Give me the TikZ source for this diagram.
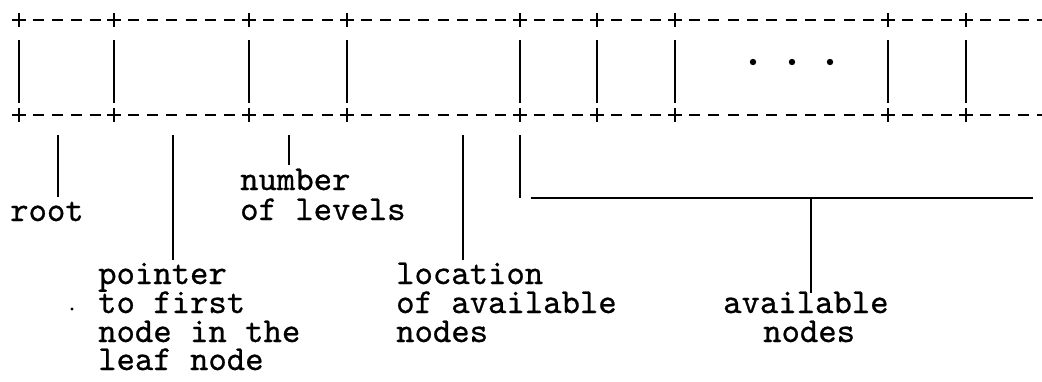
\documentclass[tikz,border=0pt]{standalone}
\usepackage{fontspec}
\newfontfamily\twfont{lmmono10-regular.otf}[FakeBold=0.7]
\begin{document}
\begin{tikzpicture}[x=1pt,y=-1pt,
  lbl/.style={anchor=base west,inner sep=0pt,font=\twfont\fontsize{35}{29}\selectfont},
  lead/.style={line width=1.7pt},
  bar/.style={line width=2pt},
  dsh/.style={line width=2.2pt},
  crs/.style={line width=2pt},
  brk/.style={line width=2.6pt}]
\useasboundingbox (0,0) rectangle (1042,381);
% cell separators with crosses
\foreach \x in {19,114,249,347,520,597,675,888,966}{
  \foreach \y in {20,115}{\draw[crs] (\x-7,\y) -- (\x+7,\y) (\x,\y-7) -- (\x,\y+7);}
  \draw[bar] (\x,40) -- (\x,103);
}
% dashes
\foreach \a/\b/\n in {19/114/5,114/249/7,249/347/5,347/520/9,520/597/4,597/675/4,675/888/11,888/966/4}{
  \pgfmathtruncatemacro\m{\n-1}
  \foreach \k in {1,...,\m}{
    \pgfmathsetmacro\c{\a+\k*(\b-\a)/\n}
    \draw[dsh] (\c-5.5,20) -- (\c+5.5,20) (\c-5.5,115) -- (\c+5.5,115);
  }
}
\foreach \c in {985,1004,1023,1042}{
  \draw[dsh] (\c-5.5,20) -- (\c+5.5,20) (\c-5.5,115) -- (\c+5.5,115);
}
% ellipsis dots
\fill (753,62) circle (3.2) (792,62) circle (3.2) (830,62) circle (3.2);
% labels
\node[lbl] (root) at (10,221) {root};
\node[lbl] (num1) at (240,190) {number};
\node[lbl] (num2) at (240,220) {of levels};
\node[lbl] (ptr1) at (98,284) {pointer};
\node[lbl] (ptr2) at (98,313) {to first};
\node[lbl] (ptr3) at (98,342) {node in the};
\node[lbl] (ptr4) at (98,370) {leaf node};
\node[lbl] (loc1) at (396,284) {location};
\node[lbl] (loc2) at (396,313) {of available};
\node[lbl] (loc3) at (396,342) {nodes};
\node[lbl] (av1) at (723,313) {available};
\node[lbl] (av2) at (763,342) {nodes};
% leaders
\coordinate (rootT) at (58,135); \coordinate (rootB) at (58,197);
\coordinate (ptrT) at (173,135); \coordinate (ptrB) at (173,260);
\coordinate (numT) at (289,135); \coordinate (numB) at (289,165);
\coordinate (locT) at (463,135); \coordinate (locB) at (463,260);
\draw[lead] (rootT) -- (rootB);
\draw[lead] (ptrT) -- (ptrB);
\draw[lead] (numT) -- (numB);
\draw[lead] (locT) -- (locB);
% bracket for available nodes
\coordinate (brT) at (520,135); \coordinate (brB) at (520,198);
\coordinate (brL) at (531,198); \coordinate (brR) at (1033,198);
\coordinate (brM) at (811,198); \coordinate (brD) at (811,293);
\draw[lead] (brT) -- (brB);
\draw[brk] (brL) -- (brR);
\draw[lead] (brM) -- (brD);
% speck
\fill (72,309) circle (1.6);
\end{tikzpicture}
\end{document}
